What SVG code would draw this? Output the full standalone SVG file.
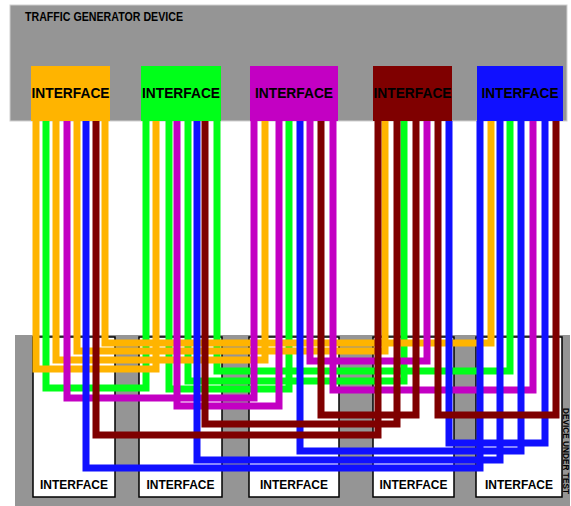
<svg xmlns="http://www.w3.org/2000/svg" width="571" height="506" viewBox="0 0 571 506">
<style>
.dev{fill:#959595;}
.lbl{font-family:"Liberation Sans",Arial,sans-serif;font-weight:bold;fill:#000;}
.dutbox{fill:#fff;stroke:#000;stroke-width:1.5;}
.w{fill:none;stroke-width:7;stroke-linejoin:miter;stroke-linecap:butt;}
.or{stroke:#FFB400;}
.gr{stroke:#00FF19;}
.mg{stroke:#C300C3;}
.mr{stroke:#7F0000;}
.bl{stroke:#1010FF;}
</style>
<rect width="571" height="506" fill="#fff"/>
<g id="traffic-generator">
<rect class="dev" x="10" y="5" width="557" height="116" stroke="#d0d0d0" stroke-width="1"/>
<text class="lbl" x="25" y="21" font-size="12" textLength="158" lengthAdjust="spacingAndGlyphs">TRAFFIC GENERATOR DEVICE</text>
</g>
<g id="tg-if-orange"><rect x="31" y="66" width="79" height="55" fill="#FFB400"/><text class="lbl" x="70.5" y="98" font-size="14" text-anchor="middle" textLength="78" lengthAdjust="spacingAndGlyphs">INTERFACE</text></g>
<g id="tg-if-green"><rect x="141" y="66" width="80" height="55" fill="#00FF19"/><text class="lbl" x="181" y="98" font-size="14" text-anchor="middle" textLength="78" lengthAdjust="spacingAndGlyphs">INTERFACE</text></g>
<g id="tg-if-magenta"><rect x="250" y="66" width="88" height="55" fill="#C300C3"/><text class="lbl" x="294" y="98" font-size="14" text-anchor="middle" textLength="78" lengthAdjust="spacingAndGlyphs">INTERFACE</text></g>
<g id="tg-if-maroon"><rect x="373" y="66" width="79" height="55" fill="#7F0000"/><text class="lbl" x="412.5" y="98" font-size="14" text-anchor="middle" textLength="78" lengthAdjust="spacingAndGlyphs">INTERFACE</text></g>
<g id="tg-if-blue"><rect x="477" y="66" width="86" height="55" fill="#1010FF"/><text class="lbl" x="520" y="98" font-size="14" text-anchor="middle" textLength="77" lengthAdjust="spacingAndGlyphs">INTERFACE</text></g>
<g id="dut">
<rect class="dev" x="15" y="335" width="555" height="171"/>
<text class="lbl" transform="translate(563 408) rotate(90)" font-size="8.5" textLength="86" lengthAdjust="spacingAndGlyphs">DEVICE UNDER TEST</text>
</g>
<g id="dut-if-1"><rect class="dutbox" x="33" y="337" width="82" height="160"/><text class="lbl" x="74" y="489" font-size="12" text-anchor="middle" textLength="68" lengthAdjust="spacingAndGlyphs">INTERFACE</text></g>
<g id="dut-if-2"><rect class="dutbox" x="139" y="337" width="83" height="160"/><text class="lbl" x="180.5" y="489" font-size="12" text-anchor="middle" textLength="68" lengthAdjust="spacingAndGlyphs">INTERFACE</text></g>
<g id="dut-if-3"><rect class="dutbox" x="249" y="337" width="90" height="160"/><text class="lbl" x="294" y="489" font-size="12" text-anchor="middle" textLength="68" lengthAdjust="spacingAndGlyphs">INTERFACE</text></g>
<g id="dut-if-4"><rect class="dutbox" x="373" y="337" width="81" height="160"/><text class="lbl" x="413.5" y="489" font-size="12" text-anchor="middle" textLength="68" lengthAdjust="spacingAndGlyphs">INTERFACE</text></g>
<g id="dut-if-5"><rect class="dutbox" x="476" y="337" width="86" height="160"/><text class="lbl" x="519" y="489" font-size="12" text-anchor="middle" textLength="68" lengthAdjust="spacingAndGlyphs">INTERFACE</text></g>
<g id="connectors">
<path class="w gr" d="M46 121V388H146V121"/>
<path class="w gr" d="M169 121V389H289V121"/>
<path class="w gr" d="M188 121V381H404V121"/>
<path class="w gr" d="M217 121V371H510V121"/>
<path class="w or" d="M36 121V369H156V121"/>
<path class="w or" d="M56 121V360H265V121"/>
<path class="w or" d="M77 121V351H385V121"/>
<path class="w or" d="M105 121V343H491V121"/>
<path class="w mg" d="M67 121V398H254V121"/>
<path class="w mg" d="M177 121V406H279V121"/>
<path class="w mg" d="M310 121V361H427V121"/>
<path class="w mg" d="M333 121V390H533V121"/>
<path class="w bl" d="M86 121V468H480V121"/>
<path class="w bl" d="M197 121V460H500V121"/>
<path class="w bl" d="M300 121V451H521V121"/>
<path class="w bl" d="M449 121V443H545V121"/>
<path class="w mr" d="M96 121V435H378V121"/>
<path class="w mr" d="M205 121V424H397V121"/>
<path class="w mr" d="M321 121V415H416V121"/>
<path class="w mr" d="M438 121V415H556V121"/>
</g>
</svg>
